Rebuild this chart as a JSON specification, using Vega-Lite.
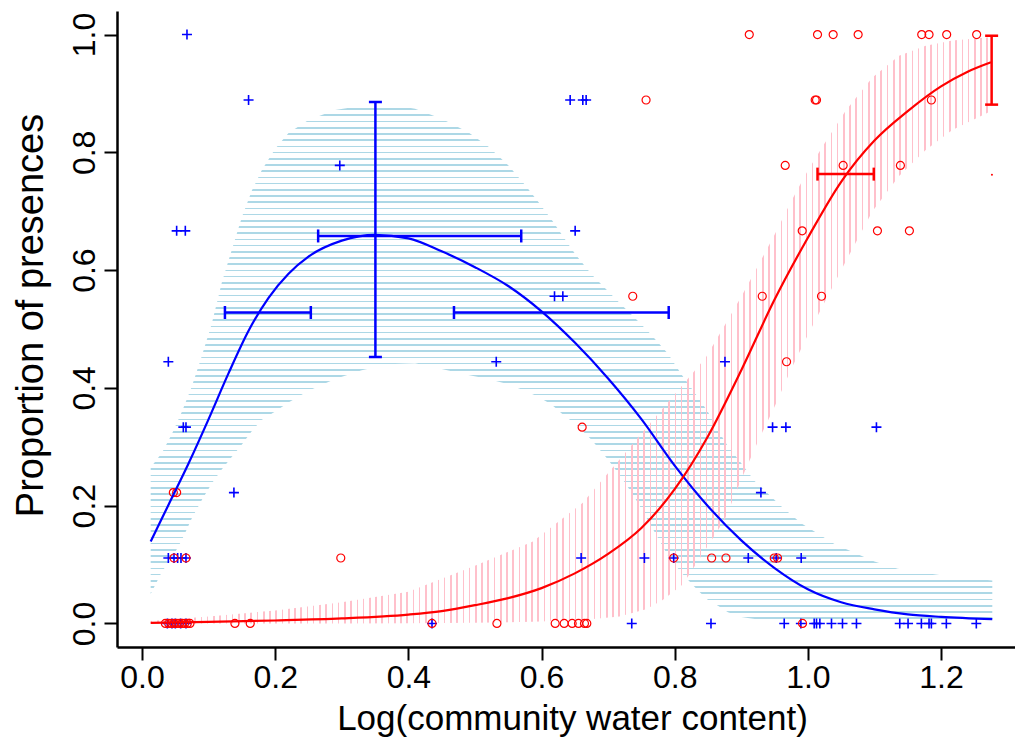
{
"$schema":"https://vega.github.io/schema/vega-lite/v6.json",
"width":898,"height":636,
"autosize":{"type":"none"},
"padding":{"left":117,"top":11,"right":0,"bottom":102},
"background":"white",
"config":{"view":{"stroke":null},"font":"Liberation Sans","axis":{"grid":false,"domainColor":"#000","domainWidth":2.5,"tickColor":"#000","tickWidth":2,"tickSize":13,"labelColor":"#000","titleColor":"#000","labelFont":"Liberation Sans","titleFont":"Liberation Sans","titleFontWeight":"normal","labelFontSize":32,"titleFontSize":35}},
"datasets":{
"bband":[{"x":0.013,"lo":0.05,"hi":0.265},{"x":0.03,"lo":0.088,"hi":0.29},{"x":0.045,"lo":0.111,"hi":0.322},{"x":0.06,"lo":0.142,"hi":0.36},{"x":0.075,"lo":0.179,"hi":0.403},{"x":0.09,"lo":0.21,"hi":0.455},{"x":0.105,"lo":0.238,"hi":0.51},{"x":0.12,"lo":0.262,"hi":0.58},{"x":0.135,"lo":0.283,"hi":0.635},{"x":0.15,"lo":0.304,"hi":0.69},{"x":0.165,"lo":0.327,"hi":0.735},{"x":0.18,"lo":0.346,"hi":0.77},{"x":0.2,"lo":0.36,"hi":0.806},{"x":0.22,"lo":0.375,"hi":0.833},{"x":0.25,"lo":0.395,"hi":0.855},{"x":0.29,"lo":0.415,"hi":0.872},{"x":0.33,"lo":0.43,"hi":0.879},{"x":0.37,"lo":0.44,"hi":0.882},{"x":0.41,"lo":0.442,"hi":0.874},{"x":0.45,"lo":0.432,"hi":0.857},{"x":0.49,"lo":0.422,"hi":0.834},{"x":0.52,"lo":0.415,"hi":0.81},{"x":0.55,"lo":0.406,"hi":0.778},{"x":0.575,"lo":0.395,"hi":0.745},{"x":0.595,"lo":0.385,"hi":0.716},{"x":0.615,"lo":0.372,"hi":0.686},{"x":0.635,"lo":0.352,"hi":0.653},{"x":0.65,"lo":0.34,"hi":0.628},{"x":0.675,"lo":0.312,"hi":0.593},{"x":0.7,"lo":0.278,"hi":0.564},{"x":0.72,"lo":0.248,"hi":0.541},{"x":0.74,"lo":0.214,"hi":0.519},{"x":0.76,"lo":0.175,"hi":0.496},{"x":0.79,"lo":0.115,"hi":0.458},{"x":0.81,"lo":0.086,"hi":0.423},{"x":0.835,"lo":0.056,"hi":0.384},{"x":0.85,"lo":0.04,"hi":0.359},{"x":0.865,"lo":0.03,"hi":0.328},{"x":0.88,"lo":0.019,"hi":0.301},{"x":0.9,"lo":0.011,"hi":0.272},{"x":0.92,"lo":0.0075,"hi":0.242},{"x":0.96,"lo":0.0035,"hi":0.199},{"x":0.99,"lo":0.0024,"hi":0.17},{"x":1.04,"lo":0.0016,"hi":0.135},{"x":1.1,"lo":0.001,"hi":0.105},{"x":1.135,"lo":0.0008,"hi":0.093},{"x":1.2,"lo":0.0004,"hi":0.082},{"x":1.277,"lo":0,"hi":0.073}],
"rband":[{"x":0.013,"lo":0,"hi":0.004},{"x":0.1,"lo":0,"hi":0.012},{"x":0.2,"lo":0,"hi":0.022},{"x":0.3,"lo":0,"hi":0.036},{"x":0.4,"lo":0.0005,"hi":0.054},{"x":0.5,"lo":0.001,"hi":0.098},{"x":0.587,"lo":0.0027,"hi":0.139},{"x":0.662,"lo":0.006,"hi":0.205},{"x":0.717,"lo":0.012,"hi":0.278},{"x":0.757,"lo":0.024,"hi":0.332},{"x":0.782,"lo":0.04,"hi":0.365},{"x":0.812,"lo":0.066,"hi":0.405},{"x":0.847,"lo":0.127,"hi":0.452},{"x":0.875,"lo":0.176,"hi":0.506},{"x":0.902,"lo":0.25,"hi":0.559},{"x":0.925,"lo":0.309,"hi":0.607},{"x":0.95,"lo":0.368,"hi":0.66},{"x":0.975,"lo":0.432,"hi":0.717},{"x":1.0,"lo":0.49,"hi":0.769},{"x":1.025,"lo":0.545,"hi":0.815},{"x":1.057,"lo":0.615,"hi":0.871},{"x":1.097,"lo":0.7,"hi":0.927},{"x":1.137,"lo":0.76,"hi":0.964},{"x":1.177,"lo":0.804,"hi":0.981},{"x":1.217,"lo":0.838,"hi":0.99},{"x":1.277,"lo":0.871,"hi":0.996}],
"fit":[{"sp":"A","x":0.013,"y":0.139},{"sp":"A","x":0.04,"y":0.202},{"sp":"A","x":0.07,"y":0.272},{"sp":"A","x":0.1,"y":0.347},{"sp":"A","x":0.13,"y":0.425},{"sp":"A","x":0.16,"y":0.497},{"sp":"A","x":0.19,"y":0.553},{"sp":"A","x":0.22,"y":0.594},{"sp":"A","x":0.25,"y":0.623},{"sp":"A","x":0.3,"y":0.65},{"sp":"A","x":0.35,"y":0.66},{"sp":"A","x":0.4,"y":0.654},{"sp":"A","x":0.45,"y":0.632},{"sp":"A","x":0.5,"y":0.605},{"sp":"A","x":0.55,"y":0.573},{"sp":"A","x":0.6,"y":0.53},{"sp":"A","x":0.65,"y":0.477},{"sp":"A","x":0.7,"y":0.416},{"sp":"A","x":0.75,"y":0.347},{"sp":"A","x":0.8,"y":0.268},{"sp":"A","x":0.85,"y":0.199},{"sp":"A","x":0.9,"y":0.141},{"sp":"A","x":0.95,"y":0.094},{"sp":"A","x":1.0,"y":0.058},{"sp":"A","x":1.05,"y":0.036},{"sp":"A","x":1.1,"y":0.024},{"sp":"A","x":1.15,"y":0.0155},{"sp":"A","x":1.2,"y":0.0112},{"sp":"A","x":1.277,"y":0.0073},
{"sp":"B","x":0.013,"y":0.001},{"sp":"B","x":0.1,"y":0.0025},{"sp":"B","x":0.2,"y":0.005},{"sp":"B","x":0.3,"y":0.0085},{"sp":"B","x":0.4,"y":0.015},{"sp":"B","x":0.45,"y":0.021},{"sp":"B","x":0.5,"y":0.031},{"sp":"B","x":0.55,"y":0.043},{"sp":"B","x":0.6,"y":0.06},{"sp":"B","x":0.65,"y":0.085},{"sp":"B","x":0.7,"y":0.118},{"sp":"B","x":0.75,"y":0.162},{"sp":"B","x":0.8,"y":0.228},{"sp":"B","x":0.85,"y":0.318},{"sp":"B","x":0.9,"y":0.43},{"sp":"B","x":0.95,"y":0.55},{"sp":"B","x":1.0,"y":0.655},{"sp":"B","x":1.05,"y":0.75},{"sp":"B","x":1.1,"y":0.82},{"sp":"B","x":1.15,"y":0.87},{"sp":"B","x":1.2,"y":0.912},{"sp":"B","x":1.24,"y":0.937},{"sp":"B","x":1.275,"y":0.953}],
"pts":[{"sp":"A","x":0.0675,"y":1},{"sp":"A","x":0.16,"y":0.8889},{"sp":"A","x":0.643,"y":0.8889},{"sp":"A","x":0.662,"y":0.8889},{"sp":"A","x":0.667,"y":0.8889},{"sp":"A","x":0.297,"y":0.7778},{"sp":"A","x":0.052,"y":0.6667},{"sp":"A","x":0.065,"y":0.6667},{"sp":"A","x":0.6505,"y":0.6667},{"sp":"A","x":0.6195,"y":0.5556},{"sp":"A","x":0.632,"y":0.5556},{"sp":"A","x":0.0395,"y":0.4444},{"sp":"A","x":0.532,"y":0.4444},{"sp":"A","x":0.8755,"y":0.4444},{"sp":"A","x":0.062,"y":0.3333},{"sp":"A","x":0.066,"y":0.3333},{"sp":"A","x":0.947,"y":0.3333},{"sp":"A","x":0.967,"y":0.3333},{"sp":"A","x":1.103,"y":0.3333},{"sp":"A","x":0.138,"y":0.2222},{"sp":"A","x":0.9295,"y":0.2222},{"sp":"A","x":0.0395,"y":0.1111},{"sp":"A","x":0.048,"y":0.1111},{"sp":"A","x":0.0535,"y":0.1111},{"sp":"A","x":0.0585,"y":0.1111},{"sp":"A","x":0.066,"y":0.1111},{"sp":"A","x":0.6595,"y":0.1111},{"sp":"A","x":0.7545,"y":0.1111},{"sp":"A","x":0.7985,"y":0.1111},{"sp":"A","x":0.9105,"y":0.1111},{"sp":"A","x":0.9525,"y":0.1111},{"sp":"A","x":0.99,"y":0.1111},{"sp":"A","x":0.038,"y":0},{"sp":"A","x":0.045,"y":0},{"sp":"A","x":0.05,"y":0},{"sp":"A","x":0.058,"y":0},{"sp":"A","x":0.066,"y":0},{"sp":"A","x":0.4355,"y":0},{"sp":"A","x":0.7355,"y":0},{"sp":"A","x":0.8545,"y":0},{"sp":"A","x":0.9645,"y":0},{"sp":"A","x":0.9895,"y":0},{"sp":"A","x":1.0095,"y":0},{"sp":"A","x":1.013,"y":0},{"sp":"A","x":1.018,"y":0},{"sp":"A","x":1.0355,"y":0},{"sp":"A","x":1.052,"y":0},{"sp":"A","x":1.073,"y":0},{"sp":"A","x":1.138,"y":0},{"sp":"A","x":1.1505,"y":0},{"sp":"A","x":1.1705,"y":0},{"sp":"A","x":1.182,"y":0},{"sp":"A","x":1.1855,"y":0},{"sp":"A","x":1.208,"y":0},{"sp":"A","x":1.253,"y":0},
{"sp":"B","x":0.912,"y":1},{"sp":"B","x":1.0145,"y":1},{"sp":"B","x":1.038,"y":1},{"sp":"B","x":1.0755,"y":1},{"sp":"B","x":1.171,"y":1},{"sp":"B","x":1.182,"y":1},{"sp":"B","x":1.2085,"y":1},{"sp":"B","x":1.2535,"y":1},{"sp":"B","x":0.757,"y":0.8889},{"sp":"B","x":1.011,"y":0.8889},{"sp":"B","x":1.013,"y":0.8889},{"sp":"B","x":1.1855,"y":0.8889},{"sp":"B","x":0.966,"y":0.7778},{"sp":"B","x":1.053,"y":0.7778},{"sp":"B","x":1.139,"y":0.7778},{"sp":"B","x":0.9915,"y":0.6667},{"sp":"B","x":1.1045,"y":0.6667},{"sp":"B","x":1.1525,"y":0.6667},{"sp":"B","x":0.737,"y":0.5556},{"sp":"B","x":0.9315,"y":0.5556},{"sp":"B","x":1.0205,"y":0.5556},{"sp":"B","x":0.968,"y":0.4444},{"sp":"B","x":0.661,"y":0.3333},{"sp":"B","x":0.047,"y":0.2222},{"sp":"B","x":0.052,"y":0.2222},{"sp":"B","x":0.048,"y":0.1111},{"sp":"B","x":0.066,"y":0.1111},{"sp":"B","x":0.2985,"y":0.1111},{"sp":"B","x":0.7985,"y":0.1111},{"sp":"B","x":0.8555,"y":0.1111},{"sp":"B","x":0.877,"y":0.1111},{"sp":"B","x":0.9495,"y":0.1111},{"sp":"B","x":0.9545,"y":0.1111},{"sp":"B","x":0.035,"y":0},{"sp":"B","x":0.04,"y":0},{"sp":"B","x":0.044,"y":0},{"sp":"B","x":0.048,"y":0},{"sp":"B","x":0.052,"y":0},{"sp":"B","x":0.056,"y":0},{"sp":"B","x":0.06,"y":0},{"sp":"B","x":0.064,"y":0},{"sp":"B","x":0.068,"y":0},{"sp":"B","x":0.072,"y":0},{"sp":"B","x":0.1395,"y":0},{"sp":"B","x":0.1625,"y":0},{"sp":"B","x":0.4355,"y":0},{"sp":"B","x":0.533,"y":0},{"sp":"B","x":0.6205,"y":0},{"sp":"B","x":0.634,"y":0},{"sp":"B","x":0.646,"y":0},{"sp":"B","x":0.6555,"y":0},{"sp":"B","x":0.6645,"y":0},{"sp":"B","x":0.668,"y":0},{"sp":"B","x":0.992,"y":0},
{"sp":"C","x":1.2765,"y":0.762}],
"vbar":[{"sp":"A","x":0.3505,"lo":0.4524,"hi":0.8855},{"sp":"B","x":1.276,"lo":0.881,"hi":0.998}],
"hbar":[{"sp":"A","y":0.658,"lo":0.2645,"hi":0.5695},{"sp":"A","y":0.528,"lo":0.1245,"hi":0.2535},{"sp":"A","y":0.528,"lo":0.4685,"hi":0.791},{"sp":"B","y":0.763,"lo":1.0145,"hi":1.099}]
},
"layer":[
{"data":{"name":"bband"},"mark":{"type":"area","stroke":null,"fill":{"gradient":"linear","x1":0,"y1":0,"x2":0,"y2":1,"stops":[
{"offset":0,"color":"transparent"},
{"offset":0.00814,"color":"transparent"},{"offset":0.00814,"color":"#add8e6"},{"offset":0.01124,"color":"#add8e6"},{"offset":0.01124,"color":"transparent"},
{"offset":0.02009,"color":"transparent"},{"offset":0.02009,"color":"#add8e6"},{"offset":0.02319,"color":"#add8e6"},{"offset":0.02319,"color":"transparent"},
{"offset":0.03204,"color":"transparent"},{"offset":0.03204,"color":"#add8e6"},{"offset":0.03514,"color":"#add8e6"},{"offset":0.03514,"color":"transparent"},
{"offset":0.044,"color":"transparent"},{"offset":0.044,"color":"#add8e6"},{"offset":0.0471,"color":"#add8e6"},{"offset":0.0471,"color":"transparent"},
{"offset":0.05595,"color":"transparent"},{"offset":0.05595,"color":"#add8e6"},{"offset":0.05905,"color":"#add8e6"},{"offset":0.05905,"color":"transparent"},
{"offset":0.0679,"color":"transparent"},{"offset":0.0679,"color":"#add8e6"},{"offset":0.071,"color":"#add8e6"},{"offset":0.071,"color":"transparent"},
{"offset":0.07985,"color":"transparent"},{"offset":0.07985,"color":"#add8e6"},{"offset":0.08295,"color":"#add8e6"},{"offset":0.08295,"color":"transparent"},
{"offset":0.0918,"color":"transparent"},{"offset":0.0918,"color":"#add8e6"},{"offset":0.0949,"color":"#add8e6"},{"offset":0.0949,"color":"transparent"},
{"offset":0.10376,"color":"transparent"},{"offset":0.10376,"color":"#add8e6"},{"offset":0.10686,"color":"#add8e6"},{"offset":0.10686,"color":"transparent"},
{"offset":0.11571,"color":"transparent"},{"offset":0.11571,"color":"#add8e6"},{"offset":0.11881,"color":"#add8e6"},{"offset":0.11881,"color":"transparent"},
{"offset":0.12766,"color":"transparent"},{"offset":0.12766,"color":"#add8e6"},{"offset":0.13076,"color":"#add8e6"},{"offset":0.13076,"color":"transparent"},
{"offset":0.13961,"color":"transparent"},{"offset":0.13961,"color":"#add8e6"},{"offset":0.14271,"color":"#add8e6"},{"offset":0.14271,"color":"transparent"},
{"offset":0.15156,"color":"transparent"},{"offset":0.15156,"color":"#add8e6"},{"offset":0.15466,"color":"#add8e6"},{"offset":0.15466,"color":"transparent"},
{"offset":0.16352,"color":"transparent"},{"offset":0.16352,"color":"#add8e6"},{"offset":0.16662,"color":"#add8e6"},{"offset":0.16662,"color":"transparent"},
{"offset":0.17547,"color":"transparent"},{"offset":0.17547,"color":"#add8e6"},{"offset":0.17857,"color":"#add8e6"},{"offset":0.17857,"color":"transparent"},
{"offset":0.18742,"color":"transparent"},{"offset":0.18742,"color":"#add8e6"},{"offset":0.19052,"color":"#add8e6"},{"offset":0.19052,"color":"transparent"},
{"offset":0.19937,"color":"transparent"},{"offset":0.19937,"color":"#add8e6"},{"offset":0.20247,"color":"#add8e6"},{"offset":0.20247,"color":"transparent"},
{"offset":0.21132,"color":"transparent"},{"offset":0.21132,"color":"#add8e6"},{"offset":0.21442,"color":"#add8e6"},{"offset":0.21442,"color":"transparent"},
{"offset":0.22328,"color":"transparent"},{"offset":0.22328,"color":"#add8e6"},{"offset":0.22638,"color":"#add8e6"},{"offset":0.22638,"color":"transparent"},
{"offset":0.23523,"color":"transparent"},{"offset":0.23523,"color":"#add8e6"},{"offset":0.23833,"color":"#add8e6"},{"offset":0.23833,"color":"transparent"},
{"offset":0.24718,"color":"transparent"},{"offset":0.24718,"color":"#add8e6"},{"offset":0.25028,"color":"#add8e6"},{"offset":0.25028,"color":"transparent"},
{"offset":0.25913,"color":"transparent"},{"offset":0.25913,"color":"#add8e6"},{"offset":0.26223,"color":"#add8e6"},{"offset":0.26223,"color":"transparent"},
{"offset":0.27108,"color":"transparent"},{"offset":0.27108,"color":"#add8e6"},{"offset":0.27418,"color":"#add8e6"},{"offset":0.27418,"color":"transparent"},
{"offset":0.28304,"color":"transparent"},{"offset":0.28304,"color":"#add8e6"},{"offset":0.28614,"color":"#add8e6"},{"offset":0.28614,"color":"transparent"},
{"offset":0.29499,"color":"transparent"},{"offset":0.29499,"color":"#add8e6"},{"offset":0.29809,"color":"#add8e6"},{"offset":0.29809,"color":"transparent"},
{"offset":0.30694,"color":"transparent"},{"offset":0.30694,"color":"#add8e6"},{"offset":0.31004,"color":"#add8e6"},{"offset":0.31004,"color":"transparent"},
{"offset":0.31889,"color":"transparent"},{"offset":0.31889,"color":"#add8e6"},{"offset":0.32199,"color":"#add8e6"},{"offset":0.32199,"color":"transparent"},
{"offset":0.33084,"color":"transparent"},{"offset":0.33084,"color":"#add8e6"},{"offset":0.33394,"color":"#add8e6"},{"offset":0.33394,"color":"transparent"},
{"offset":0.3428,"color":"transparent"},{"offset":0.3428,"color":"#add8e6"},{"offset":0.3459,"color":"#add8e6"},{"offset":0.3459,"color":"transparent"},
{"offset":0.35475,"color":"transparent"},{"offset":0.35475,"color":"#add8e6"},{"offset":0.35785,"color":"#add8e6"},{"offset":0.35785,"color":"transparent"},
{"offset":0.3667,"color":"transparent"},{"offset":0.3667,"color":"#add8e6"},{"offset":0.3698,"color":"#add8e6"},{"offset":0.3698,"color":"transparent"},
{"offset":0.37865,"color":"transparent"},{"offset":0.37865,"color":"#add8e6"},{"offset":0.38175,"color":"#add8e6"},{"offset":0.38175,"color":"transparent"},
{"offset":0.3906,"color":"transparent"},{"offset":0.3906,"color":"#add8e6"},{"offset":0.3937,"color":"#add8e6"},{"offset":0.3937,"color":"transparent"},
{"offset":0.40256,"color":"transparent"},{"offset":0.40256,"color":"#add8e6"},{"offset":0.40566,"color":"#add8e6"},{"offset":0.40566,"color":"transparent"},
{"offset":0.41451,"color":"transparent"},{"offset":0.41451,"color":"#add8e6"},{"offset":0.41761,"color":"#add8e6"},{"offset":0.41761,"color":"transparent"},
{"offset":0.42646,"color":"transparent"},{"offset":0.42646,"color":"#add8e6"},{"offset":0.42956,"color":"#add8e6"},{"offset":0.42956,"color":"transparent"},
{"offset":0.43841,"color":"transparent"},{"offset":0.43841,"color":"#add8e6"},{"offset":0.44151,"color":"#add8e6"},{"offset":0.44151,"color":"transparent"},
{"offset":0.45036,"color":"transparent"},{"offset":0.45036,"color":"#add8e6"},{"offset":0.45346,"color":"#add8e6"},{"offset":0.45346,"color":"transparent"},
{"offset":0.46232,"color":"transparent"},{"offset":0.46232,"color":"#add8e6"},{"offset":0.46542,"color":"#add8e6"},{"offset":0.46542,"color":"transparent"},
{"offset":0.47427,"color":"transparent"},{"offset":0.47427,"color":"#add8e6"},{"offset":0.47737,"color":"#add8e6"},{"offset":0.47737,"color":"transparent"},
{"offset":0.48622,"color":"transparent"},{"offset":0.48622,"color":"#add8e6"},{"offset":0.48932,"color":"#add8e6"},{"offset":0.48932,"color":"transparent"},
{"offset":0.49817,"color":"transparent"},{"offset":0.49817,"color":"#add8e6"},{"offset":0.50127,"color":"#add8e6"},{"offset":0.50127,"color":"transparent"},
{"offset":0.51012,"color":"transparent"},{"offset":0.51012,"color":"#add8e6"},{"offset":0.51322,"color":"#add8e6"},{"offset":0.51322,"color":"transparent"},
{"offset":0.52208,"color":"transparent"},{"offset":0.52208,"color":"#add8e6"},{"offset":0.52518,"color":"#add8e6"},{"offset":0.52518,"color":"transparent"},
{"offset":0.53403,"color":"transparent"},{"offset":0.53403,"color":"#add8e6"},{"offset":0.53713,"color":"#add8e6"},{"offset":0.53713,"color":"transparent"},
{"offset":0.54598,"color":"transparent"},{"offset":0.54598,"color":"#add8e6"},{"offset":0.54908,"color":"#add8e6"},{"offset":0.54908,"color":"transparent"},
{"offset":0.55793,"color":"transparent"},{"offset":0.55793,"color":"#add8e6"},{"offset":0.56103,"color":"#add8e6"},{"offset":0.56103,"color":"transparent"},
{"offset":0.56988,"color":"transparent"},{"offset":0.56988,"color":"#add8e6"},{"offset":0.57298,"color":"#add8e6"},{"offset":0.57298,"color":"transparent"},
{"offset":0.58184,"color":"transparent"},{"offset":0.58184,"color":"#add8e6"},{"offset":0.58494,"color":"#add8e6"},{"offset":0.58494,"color":"transparent"},
{"offset":0.59379,"color":"transparent"},{"offset":0.59379,"color":"#add8e6"},{"offset":0.59689,"color":"#add8e6"},{"offset":0.59689,"color":"transparent"},
{"offset":0.60574,"color":"transparent"},{"offset":0.60574,"color":"#add8e6"},{"offset":0.60884,"color":"#add8e6"},{"offset":0.60884,"color":"transparent"},
{"offset":0.61769,"color":"transparent"},{"offset":0.61769,"color":"#add8e6"},{"offset":0.62079,"color":"#add8e6"},{"offset":0.62079,"color":"transparent"},
{"offset":0.62964,"color":"transparent"},{"offset":0.62964,"color":"#add8e6"},{"offset":0.63274,"color":"#add8e6"},{"offset":0.63274,"color":"transparent"},
{"offset":0.6416,"color":"transparent"},{"offset":0.6416,"color":"#add8e6"},{"offset":0.6447,"color":"#add8e6"},{"offset":0.6447,"color":"transparent"},
{"offset":0.65355,"color":"transparent"},{"offset":0.65355,"color":"#add8e6"},{"offset":0.65665,"color":"#add8e6"},{"offset":0.65665,"color":"transparent"},
{"offset":0.6655,"color":"transparent"},{"offset":0.6655,"color":"#add8e6"},{"offset":0.6686,"color":"#add8e6"},{"offset":0.6686,"color":"transparent"},
{"offset":0.67745,"color":"transparent"},{"offset":0.67745,"color":"#add8e6"},{"offset":0.68055,"color":"#add8e6"},{"offset":0.68055,"color":"transparent"},
{"offset":0.6894,"color":"transparent"},{"offset":0.6894,"color":"#add8e6"},{"offset":0.6925,"color":"#add8e6"},{"offset":0.6925,"color":"transparent"},
{"offset":0.70136,"color":"transparent"},{"offset":0.70136,"color":"#add8e6"},{"offset":0.70446,"color":"#add8e6"},{"offset":0.70446,"color":"transparent"},
{"offset":0.71331,"color":"transparent"},{"offset":0.71331,"color":"#add8e6"},{"offset":0.71641,"color":"#add8e6"},{"offset":0.71641,"color":"transparent"},
{"offset":0.72526,"color":"transparent"},{"offset":0.72526,"color":"#add8e6"},{"offset":0.72836,"color":"#add8e6"},{"offset":0.72836,"color":"transparent"},
{"offset":0.73721,"color":"transparent"},{"offset":0.73721,"color":"#add8e6"},{"offset":0.74031,"color":"#add8e6"},{"offset":0.74031,"color":"transparent"},
{"offset":0.74916,"color":"transparent"},{"offset":0.74916,"color":"#add8e6"},{"offset":0.75226,"color":"#add8e6"},{"offset":0.75226,"color":"transparent"},
{"offset":0.76112,"color":"transparent"},{"offset":0.76112,"color":"#add8e6"},{"offset":0.76422,"color":"#add8e6"},{"offset":0.76422,"color":"transparent"},
{"offset":0.77307,"color":"transparent"},{"offset":0.77307,"color":"#add8e6"},{"offset":0.77617,"color":"#add8e6"},{"offset":0.77617,"color":"transparent"},
{"offset":0.78502,"color":"transparent"},{"offset":0.78502,"color":"#add8e6"},{"offset":0.78812,"color":"#add8e6"},{"offset":0.78812,"color":"transparent"},
{"offset":0.79697,"color":"transparent"},{"offset":0.79697,"color":"#add8e6"},{"offset":0.80007,"color":"#add8e6"},{"offset":0.80007,"color":"transparent"},
{"offset":0.80892,"color":"transparent"},{"offset":0.80892,"color":"#add8e6"},{"offset":0.81202,"color":"#add8e6"},{"offset":0.81202,"color":"transparent"},
{"offset":0.82088,"color":"transparent"},{"offset":0.82088,"color":"#add8e6"},{"offset":0.82398,"color":"#add8e6"},{"offset":0.82398,"color":"transparent"},
{"offset":0.83283,"color":"transparent"},{"offset":0.83283,"color":"#add8e6"},{"offset":0.83593,"color":"#add8e6"},{"offset":0.83593,"color":"transparent"},
{"offset":0.84478,"color":"transparent"},{"offset":0.84478,"color":"#add8e6"},{"offset":0.84788,"color":"#add8e6"},{"offset":0.84788,"color":"transparent"},
{"offset":0.85673,"color":"transparent"},{"offset":0.85673,"color":"#add8e6"},{"offset":0.85983,"color":"#add8e6"},{"offset":0.85983,"color":"transparent"},
{"offset":0.86868,"color":"transparent"},{"offset":0.86868,"color":"#add8e6"},{"offset":0.87178,"color":"#add8e6"},{"offset":0.87178,"color":"transparent"},
{"offset":0.88064,"color":"transparent"},{"offset":0.88064,"color":"#add8e6"},{"offset":0.88374,"color":"#add8e6"},{"offset":0.88374,"color":"transparent"},
{"offset":0.89259,"color":"transparent"},{"offset":0.89259,"color":"#add8e6"},{"offset":0.89569,"color":"#add8e6"},{"offset":0.89569,"color":"transparent"},
{"offset":0.90454,"color":"transparent"},{"offset":0.90454,"color":"#add8e6"},{"offset":0.90764,"color":"#add8e6"},{"offset":0.90764,"color":"transparent"},
{"offset":0.91649,"color":"transparent"},{"offset":0.91649,"color":"#add8e6"},{"offset":0.91959,"color":"#add8e6"},{"offset":0.91959,"color":"transparent"},
{"offset":0.92844,"color":"transparent"},{"offset":0.92844,"color":"#add8e6"},{"offset":0.93154,"color":"#add8e6"},{"offset":0.93154,"color":"transparent"},
{"offset":0.9404,"color":"transparent"},{"offset":0.9404,"color":"#add8e6"},{"offset":0.9435,"color":"#add8e6"},{"offset":0.9435,"color":"transparent"},
{"offset":0.95235,"color":"transparent"},{"offset":0.95235,"color":"#add8e6"},{"offset":0.95545,"color":"#add8e6"},{"offset":0.95545,"color":"transparent"},
{"offset":0.9643,"color":"transparent"},{"offset":0.9643,"color":"#add8e6"},{"offset":0.9674,"color":"#add8e6"},{"offset":0.9674,"color":"transparent"},
{"offset":0.97625,"color":"transparent"},{"offset":0.97625,"color":"#add8e6"},{"offset":0.97935,"color":"#add8e6"},{"offset":0.97935,"color":"transparent"},
{"offset":0.9882,"color":"transparent"},{"offset":0.9882,"color":"#add8e6"},{"offset":0.9913,"color":"#add8e6"},{"offset":0.9913,"color":"transparent"},
{"offset":1,"color":"transparent"}]}},
"encoding":{"x":{"field":"x","type":"quantitative","scale":{"domain":[-0.0376,1.3111],"nice":false,"zero":false},"axis":{"title":"Log(community water content)","values":[0,0.2,0.4,0.6,0.8,1,1.2],"format":".1f","labelPadding":2,"titlePadding":8,"titleX":455,"labelFlush":false,"labelOverlap":false}},
"y":{"field":"lo","type":"quantitative","scale":{"domain":[-0.04,1.04],"nice":false,"zero":false},"axis":{"title":"Proportion of presences","values":[0,0.2,0.4,0.6,0.8,1],"format":".1f","labelAngle":-90,"labelAlign":"center","labelBaseline":"alphabetic","labelPadding":10,"titlePadding":18,"titleY":304,"titleFontSize":38,"labelOverlap":false}},
"y2":{"field":"hi"}}},
{"data":{"name":"rband"},"mark":{"type":"area","stroke":null,"fill":{"gradient":"linear","x1":0,"y1":0,"x2":1,"y2":0,"stops":[
{"offset":0,"color":"#ffc0cb"},{"offset":0.0019,"color":"#ffc0cb"},{"offset":0.0019,"color":"transparent"},
{"offset":0.00741,"color":"transparent"},{"offset":0.00741,"color":"#ffc0cb"},{"offset":0.00931,"color":"#ffc0cb"},{"offset":0.00931,"color":"transparent"},
{"offset":0.01482,"color":"transparent"},{"offset":0.01482,"color":"#ffc0cb"},{"offset":0.01672,"color":"#ffc0cb"},{"offset":0.01672,"color":"transparent"},
{"offset":0.02223,"color":"transparent"},{"offset":0.02223,"color":"#ffc0cb"},{"offset":0.02413,"color":"#ffc0cb"},{"offset":0.02413,"color":"transparent"},
{"offset":0.02964,"color":"transparent"},{"offset":0.02964,"color":"#ffc0cb"},{"offset":0.03154,"color":"#ffc0cb"},{"offset":0.03154,"color":"transparent"},
{"offset":0.03705,"color":"transparent"},{"offset":0.03705,"color":"#ffc0cb"},{"offset":0.03895,"color":"#ffc0cb"},{"offset":0.03895,"color":"transparent"},
{"offset":0.04447,"color":"transparent"},{"offset":0.04447,"color":"#ffc0cb"},{"offset":0.04637,"color":"#ffc0cb"},{"offset":0.04637,"color":"transparent"},
{"offset":0.05188,"color":"transparent"},{"offset":0.05188,"color":"#ffc0cb"},{"offset":0.05378,"color":"#ffc0cb"},{"offset":0.05378,"color":"transparent"},
{"offset":0.05929,"color":"transparent"},{"offset":0.05929,"color":"#ffc0cb"},{"offset":0.06119,"color":"#ffc0cb"},{"offset":0.06119,"color":"transparent"},
{"offset":0.0667,"color":"transparent"},{"offset":0.0667,"color":"#ffc0cb"},{"offset":0.0686,"color":"#ffc0cb"},{"offset":0.0686,"color":"transparent"},
{"offset":0.07411,"color":"transparent"},{"offset":0.07411,"color":"#ffc0cb"},{"offset":0.07601,"color":"#ffc0cb"},{"offset":0.07601,"color":"transparent"},
{"offset":0.08152,"color":"transparent"},{"offset":0.08152,"color":"#ffc0cb"},{"offset":0.08342,"color":"#ffc0cb"},{"offset":0.08342,"color":"transparent"},
{"offset":0.08893,"color":"transparent"},{"offset":0.08893,"color":"#ffc0cb"},{"offset":0.09083,"color":"#ffc0cb"},{"offset":0.09083,"color":"transparent"},
{"offset":0.09634,"color":"transparent"},{"offset":0.09634,"color":"#ffc0cb"},{"offset":0.09824,"color":"#ffc0cb"},{"offset":0.09824,"color":"transparent"},
{"offset":0.10375,"color":"transparent"},{"offset":0.10375,"color":"#ffc0cb"},{"offset":0.10565,"color":"#ffc0cb"},{"offset":0.10565,"color":"transparent"},
{"offset":0.11116,"color":"transparent"},{"offset":0.11116,"color":"#ffc0cb"},{"offset":0.11306,"color":"#ffc0cb"},{"offset":0.11306,"color":"transparent"},
{"offset":0.11857,"color":"transparent"},{"offset":0.11857,"color":"#ffc0cb"},{"offset":0.12047,"color":"#ffc0cb"},{"offset":0.12047,"color":"transparent"},
{"offset":0.12599,"color":"transparent"},{"offset":0.12599,"color":"#ffc0cb"},{"offset":0.12789,"color":"#ffc0cb"},{"offset":0.12789,"color":"transparent"},
{"offset":0.1334,"color":"transparent"},{"offset":0.1334,"color":"#ffc0cb"},{"offset":0.1353,"color":"#ffc0cb"},{"offset":0.1353,"color":"transparent"},
{"offset":0.14081,"color":"transparent"},{"offset":0.14081,"color":"#ffc0cb"},{"offset":0.14271,"color":"#ffc0cb"},{"offset":0.14271,"color":"transparent"},
{"offset":0.14822,"color":"transparent"},{"offset":0.14822,"color":"#ffc0cb"},{"offset":0.15012,"color":"#ffc0cb"},{"offset":0.15012,"color":"transparent"},
{"offset":0.15563,"color":"transparent"},{"offset":0.15563,"color":"#ffc0cb"},{"offset":0.15753,"color":"#ffc0cb"},{"offset":0.15753,"color":"transparent"},
{"offset":0.16304,"color":"transparent"},{"offset":0.16304,"color":"#ffc0cb"},{"offset":0.16494,"color":"#ffc0cb"},{"offset":0.16494,"color":"transparent"},
{"offset":0.17045,"color":"transparent"},{"offset":0.17045,"color":"#ffc0cb"},{"offset":0.17235,"color":"#ffc0cb"},{"offset":0.17235,"color":"transparent"},
{"offset":0.17786,"color":"transparent"},{"offset":0.17786,"color":"#ffc0cb"},{"offset":0.17976,"color":"#ffc0cb"},{"offset":0.17976,"color":"transparent"},
{"offset":0.18527,"color":"transparent"},{"offset":0.18527,"color":"#ffc0cb"},{"offset":0.18717,"color":"#ffc0cb"},{"offset":0.18717,"color":"transparent"},
{"offset":0.19268,"color":"transparent"},{"offset":0.19268,"color":"#ffc0cb"},{"offset":0.19458,"color":"#ffc0cb"},{"offset":0.19458,"color":"transparent"},
{"offset":0.20009,"color":"transparent"},{"offset":0.20009,"color":"#ffc0cb"},{"offset":0.20199,"color":"#ffc0cb"},{"offset":0.20199,"color":"transparent"},
{"offset":0.20751,"color":"transparent"},{"offset":0.20751,"color":"#ffc0cb"},{"offset":0.20941,"color":"#ffc0cb"},{"offset":0.20941,"color":"transparent"},
{"offset":0.21492,"color":"transparent"},{"offset":0.21492,"color":"#ffc0cb"},{"offset":0.21682,"color":"#ffc0cb"},{"offset":0.21682,"color":"transparent"},
{"offset":0.22233,"color":"transparent"},{"offset":0.22233,"color":"#ffc0cb"},{"offset":0.22423,"color":"#ffc0cb"},{"offset":0.22423,"color":"transparent"},
{"offset":0.22974,"color":"transparent"},{"offset":0.22974,"color":"#ffc0cb"},{"offset":0.23164,"color":"#ffc0cb"},{"offset":0.23164,"color":"transparent"},
{"offset":0.23715,"color":"transparent"},{"offset":0.23715,"color":"#ffc0cb"},{"offset":0.23905,"color":"#ffc0cb"},{"offset":0.23905,"color":"transparent"},
{"offset":0.24456,"color":"transparent"},{"offset":0.24456,"color":"#ffc0cb"},{"offset":0.24646,"color":"#ffc0cb"},{"offset":0.24646,"color":"transparent"},
{"offset":0.25197,"color":"transparent"},{"offset":0.25197,"color":"#ffc0cb"},{"offset":0.25387,"color":"#ffc0cb"},{"offset":0.25387,"color":"transparent"},
{"offset":0.25938,"color":"transparent"},{"offset":0.25938,"color":"#ffc0cb"},{"offset":0.26128,"color":"#ffc0cb"},{"offset":0.26128,"color":"transparent"},
{"offset":0.26679,"color":"transparent"},{"offset":0.26679,"color":"#ffc0cb"},{"offset":0.26869,"color":"#ffc0cb"},{"offset":0.26869,"color":"transparent"},
{"offset":0.2742,"color":"transparent"},{"offset":0.2742,"color":"#ffc0cb"},{"offset":0.2761,"color":"#ffc0cb"},{"offset":0.2761,"color":"transparent"},
{"offset":0.28161,"color":"transparent"},{"offset":0.28161,"color":"#ffc0cb"},{"offset":0.28351,"color":"#ffc0cb"},{"offset":0.28351,"color":"transparent"},
{"offset":0.28903,"color":"transparent"},{"offset":0.28903,"color":"#ffc0cb"},{"offset":0.29093,"color":"#ffc0cb"},{"offset":0.29093,"color":"transparent"},
{"offset":0.29644,"color":"transparent"},{"offset":0.29644,"color":"#ffc0cb"},{"offset":0.29834,"color":"#ffc0cb"},{"offset":0.29834,"color":"transparent"},
{"offset":0.30385,"color":"transparent"},{"offset":0.30385,"color":"#ffc0cb"},{"offset":0.30575,"color":"#ffc0cb"},{"offset":0.30575,"color":"transparent"},
{"offset":0.31126,"color":"transparent"},{"offset":0.31126,"color":"#ffc0cb"},{"offset":0.31316,"color":"#ffc0cb"},{"offset":0.31316,"color":"transparent"},
{"offset":0.31867,"color":"transparent"},{"offset":0.31867,"color":"#ffc0cb"},{"offset":0.32057,"color":"#ffc0cb"},{"offset":0.32057,"color":"transparent"},
{"offset":0.32608,"color":"transparent"},{"offset":0.32608,"color":"#ffc0cb"},{"offset":0.32798,"color":"#ffc0cb"},{"offset":0.32798,"color":"transparent"},
{"offset":0.33349,"color":"transparent"},{"offset":0.33349,"color":"#ffc0cb"},{"offset":0.33539,"color":"#ffc0cb"},{"offset":0.33539,"color":"transparent"},
{"offset":0.3409,"color":"transparent"},{"offset":0.3409,"color":"#ffc0cb"},{"offset":0.3428,"color":"#ffc0cb"},{"offset":0.3428,"color":"transparent"},
{"offset":0.34831,"color":"transparent"},{"offset":0.34831,"color":"#ffc0cb"},{"offset":0.35021,"color":"#ffc0cb"},{"offset":0.35021,"color":"transparent"},
{"offset":0.35572,"color":"transparent"},{"offset":0.35572,"color":"#ffc0cb"},{"offset":0.35762,"color":"#ffc0cb"},{"offset":0.35762,"color":"transparent"},
{"offset":0.36313,"color":"transparent"},{"offset":0.36313,"color":"#ffc0cb"},{"offset":0.36503,"color":"#ffc0cb"},{"offset":0.36503,"color":"transparent"},
{"offset":0.37055,"color":"transparent"},{"offset":0.37055,"color":"#ffc0cb"},{"offset":0.37245,"color":"#ffc0cb"},{"offset":0.37245,"color":"transparent"},
{"offset":0.37796,"color":"transparent"},{"offset":0.37796,"color":"#ffc0cb"},{"offset":0.37986,"color":"#ffc0cb"},{"offset":0.37986,"color":"transparent"},
{"offset":0.38537,"color":"transparent"},{"offset":0.38537,"color":"#ffc0cb"},{"offset":0.38727,"color":"#ffc0cb"},{"offset":0.38727,"color":"transparent"},
{"offset":0.39278,"color":"transparent"},{"offset":0.39278,"color":"#ffc0cb"},{"offset":0.39468,"color":"#ffc0cb"},{"offset":0.39468,"color":"transparent"},
{"offset":0.40019,"color":"transparent"},{"offset":0.40019,"color":"#ffc0cb"},{"offset":0.40209,"color":"#ffc0cb"},{"offset":0.40209,"color":"transparent"},
{"offset":0.4076,"color":"transparent"},{"offset":0.4076,"color":"#ffc0cb"},{"offset":0.4095,"color":"#ffc0cb"},{"offset":0.4095,"color":"transparent"},
{"offset":0.41501,"color":"transparent"},{"offset":0.41501,"color":"#ffc0cb"},{"offset":0.41691,"color":"#ffc0cb"},{"offset":0.41691,"color":"transparent"},
{"offset":0.42242,"color":"transparent"},{"offset":0.42242,"color":"#ffc0cb"},{"offset":0.42432,"color":"#ffc0cb"},{"offset":0.42432,"color":"transparent"},
{"offset":0.42983,"color":"transparent"},{"offset":0.42983,"color":"#ffc0cb"},{"offset":0.43173,"color":"#ffc0cb"},{"offset":0.43173,"color":"transparent"},
{"offset":0.43724,"color":"transparent"},{"offset":0.43724,"color":"#ffc0cb"},{"offset":0.43914,"color":"#ffc0cb"},{"offset":0.43914,"color":"transparent"},
{"offset":0.44465,"color":"transparent"},{"offset":0.44465,"color":"#ffc0cb"},{"offset":0.44655,"color":"#ffc0cb"},{"offset":0.44655,"color":"transparent"},
{"offset":0.45206,"color":"transparent"},{"offset":0.45206,"color":"#ffc0cb"},{"offset":0.45396,"color":"#ffc0cb"},{"offset":0.45396,"color":"transparent"},
{"offset":0.45948,"color":"transparent"},{"offset":0.45948,"color":"#ffc0cb"},{"offset":0.46138,"color":"#ffc0cb"},{"offset":0.46138,"color":"transparent"},
{"offset":0.46689,"color":"transparent"},{"offset":0.46689,"color":"#ffc0cb"},{"offset":0.46879,"color":"#ffc0cb"},{"offset":0.46879,"color":"transparent"},
{"offset":0.4743,"color":"transparent"},{"offset":0.4743,"color":"#ffc0cb"},{"offset":0.4762,"color":"#ffc0cb"},{"offset":0.4762,"color":"transparent"},
{"offset":0.48171,"color":"transparent"},{"offset":0.48171,"color":"#ffc0cb"},{"offset":0.48361,"color":"#ffc0cb"},{"offset":0.48361,"color":"transparent"},
{"offset":0.48912,"color":"transparent"},{"offset":0.48912,"color":"#ffc0cb"},{"offset":0.49102,"color":"#ffc0cb"},{"offset":0.49102,"color":"transparent"},
{"offset":0.49653,"color":"transparent"},{"offset":0.49653,"color":"#ffc0cb"},{"offset":0.49843,"color":"#ffc0cb"},{"offset":0.49843,"color":"transparent"},
{"offset":0.50394,"color":"transparent"},{"offset":0.50394,"color":"#ffc0cb"},{"offset":0.50584,"color":"#ffc0cb"},{"offset":0.50584,"color":"transparent"},
{"offset":0.51135,"color":"transparent"},{"offset":0.51135,"color":"#ffc0cb"},{"offset":0.51325,"color":"#ffc0cb"},{"offset":0.51325,"color":"transparent"},
{"offset":0.51876,"color":"transparent"},{"offset":0.51876,"color":"#ffc0cb"},{"offset":0.52066,"color":"#ffc0cb"},{"offset":0.52066,"color":"transparent"},
{"offset":0.52617,"color":"transparent"},{"offset":0.52617,"color":"#ffc0cb"},{"offset":0.52807,"color":"#ffc0cb"},{"offset":0.52807,"color":"transparent"},
{"offset":0.53358,"color":"transparent"},{"offset":0.53358,"color":"#ffc0cb"},{"offset":0.53548,"color":"#ffc0cb"},{"offset":0.53548,"color":"transparent"},
{"offset":0.541,"color":"transparent"},{"offset":0.541,"color":"#ffc0cb"},{"offset":0.5429,"color":"#ffc0cb"},{"offset":0.5429,"color":"transparent"},
{"offset":0.54841,"color":"transparent"},{"offset":0.54841,"color":"#ffc0cb"},{"offset":0.55031,"color":"#ffc0cb"},{"offset":0.55031,"color":"transparent"},
{"offset":0.55582,"color":"transparent"},{"offset":0.55582,"color":"#ffc0cb"},{"offset":0.55772,"color":"#ffc0cb"},{"offset":0.55772,"color":"transparent"},
{"offset":0.56323,"color":"transparent"},{"offset":0.56323,"color":"#ffc0cb"},{"offset":0.56513,"color":"#ffc0cb"},{"offset":0.56513,"color":"transparent"},
{"offset":0.57064,"color":"transparent"},{"offset":0.57064,"color":"#ffc0cb"},{"offset":0.57254,"color":"#ffc0cb"},{"offset":0.57254,"color":"transparent"},
{"offset":0.57805,"color":"transparent"},{"offset":0.57805,"color":"#ffc0cb"},{"offset":0.57995,"color":"#ffc0cb"},{"offset":0.57995,"color":"transparent"},
{"offset":0.58546,"color":"transparent"},{"offset":0.58546,"color":"#ffc0cb"},{"offset":0.58736,"color":"#ffc0cb"},{"offset":0.58736,"color":"transparent"},
{"offset":0.59287,"color":"transparent"},{"offset":0.59287,"color":"#ffc0cb"},{"offset":0.59477,"color":"#ffc0cb"},{"offset":0.59477,"color":"transparent"},
{"offset":0.60028,"color":"transparent"},{"offset":0.60028,"color":"#ffc0cb"},{"offset":0.60218,"color":"#ffc0cb"},{"offset":0.60218,"color":"transparent"},
{"offset":0.60769,"color":"transparent"},{"offset":0.60769,"color":"#ffc0cb"},{"offset":0.60959,"color":"#ffc0cb"},{"offset":0.60959,"color":"transparent"},
{"offset":0.6151,"color":"transparent"},{"offset":0.6151,"color":"#ffc0cb"},{"offset":0.617,"color":"#ffc0cb"},{"offset":0.617,"color":"transparent"},
{"offset":0.62252,"color":"transparent"},{"offset":0.62252,"color":"#ffc0cb"},{"offset":0.62442,"color":"#ffc0cb"},{"offset":0.62442,"color":"transparent"},
{"offset":0.62993,"color":"transparent"},{"offset":0.62993,"color":"#ffc0cb"},{"offset":0.63183,"color":"#ffc0cb"},{"offset":0.63183,"color":"transparent"},
{"offset":0.63734,"color":"transparent"},{"offset":0.63734,"color":"#ffc0cb"},{"offset":0.63924,"color":"#ffc0cb"},{"offset":0.63924,"color":"transparent"},
{"offset":0.64475,"color":"transparent"},{"offset":0.64475,"color":"#ffc0cb"},{"offset":0.64665,"color":"#ffc0cb"},{"offset":0.64665,"color":"transparent"},
{"offset":0.65216,"color":"transparent"},{"offset":0.65216,"color":"#ffc0cb"},{"offset":0.65406,"color":"#ffc0cb"},{"offset":0.65406,"color":"transparent"},
{"offset":0.65957,"color":"transparent"},{"offset":0.65957,"color":"#ffc0cb"},{"offset":0.66147,"color":"#ffc0cb"},{"offset":0.66147,"color":"transparent"},
{"offset":0.66698,"color":"transparent"},{"offset":0.66698,"color":"#ffc0cb"},{"offset":0.66888,"color":"#ffc0cb"},{"offset":0.66888,"color":"transparent"},
{"offset":0.67439,"color":"transparent"},{"offset":0.67439,"color":"#ffc0cb"},{"offset":0.67629,"color":"#ffc0cb"},{"offset":0.67629,"color":"transparent"},
{"offset":0.6818,"color":"transparent"},{"offset":0.6818,"color":"#ffc0cb"},{"offset":0.6837,"color":"#ffc0cb"},{"offset":0.6837,"color":"transparent"},
{"offset":0.68921,"color":"transparent"},{"offset":0.68921,"color":"#ffc0cb"},{"offset":0.69111,"color":"#ffc0cb"},{"offset":0.69111,"color":"transparent"},
{"offset":0.69662,"color":"transparent"},{"offset":0.69662,"color":"#ffc0cb"},{"offset":0.69852,"color":"#ffc0cb"},{"offset":0.69852,"color":"transparent"},
{"offset":0.70404,"color":"transparent"},{"offset":0.70404,"color":"#ffc0cb"},{"offset":0.70594,"color":"#ffc0cb"},{"offset":0.70594,"color":"transparent"},
{"offset":0.71145,"color":"transparent"},{"offset":0.71145,"color":"#ffc0cb"},{"offset":0.71335,"color":"#ffc0cb"},{"offset":0.71335,"color":"transparent"},
{"offset":0.71886,"color":"transparent"},{"offset":0.71886,"color":"#ffc0cb"},{"offset":0.72076,"color":"#ffc0cb"},{"offset":0.72076,"color":"transparent"},
{"offset":0.72627,"color":"transparent"},{"offset":0.72627,"color":"#ffc0cb"},{"offset":0.72817,"color":"#ffc0cb"},{"offset":0.72817,"color":"transparent"},
{"offset":0.73368,"color":"transparent"},{"offset":0.73368,"color":"#ffc0cb"},{"offset":0.73558,"color":"#ffc0cb"},{"offset":0.73558,"color":"transparent"},
{"offset":0.74109,"color":"transparent"},{"offset":0.74109,"color":"#ffc0cb"},{"offset":0.74299,"color":"#ffc0cb"},{"offset":0.74299,"color":"transparent"},
{"offset":0.7485,"color":"transparent"},{"offset":0.7485,"color":"#ffc0cb"},{"offset":0.7504,"color":"#ffc0cb"},{"offset":0.7504,"color":"transparent"},
{"offset":0.75591,"color":"transparent"},{"offset":0.75591,"color":"#ffc0cb"},{"offset":0.75781,"color":"#ffc0cb"},{"offset":0.75781,"color":"transparent"},
{"offset":0.76332,"color":"transparent"},{"offset":0.76332,"color":"#ffc0cb"},{"offset":0.76522,"color":"#ffc0cb"},{"offset":0.76522,"color":"transparent"},
{"offset":0.77073,"color":"transparent"},{"offset":0.77073,"color":"#ffc0cb"},{"offset":0.77263,"color":"#ffc0cb"},{"offset":0.77263,"color":"transparent"},
{"offset":0.77814,"color":"transparent"},{"offset":0.77814,"color":"#ffc0cb"},{"offset":0.78004,"color":"#ffc0cb"},{"offset":0.78004,"color":"transparent"},
{"offset":0.78556,"color":"transparent"},{"offset":0.78556,"color":"#ffc0cb"},{"offset":0.78746,"color":"#ffc0cb"},{"offset":0.78746,"color":"transparent"},
{"offset":0.79297,"color":"transparent"},{"offset":0.79297,"color":"#ffc0cb"},{"offset":0.79487,"color":"#ffc0cb"},{"offset":0.79487,"color":"transparent"},
{"offset":0.80038,"color":"transparent"},{"offset":0.80038,"color":"#ffc0cb"},{"offset":0.80228,"color":"#ffc0cb"},{"offset":0.80228,"color":"transparent"},
{"offset":0.80779,"color":"transparent"},{"offset":0.80779,"color":"#ffc0cb"},{"offset":0.80969,"color":"#ffc0cb"},{"offset":0.80969,"color":"transparent"},
{"offset":0.8152,"color":"transparent"},{"offset":0.8152,"color":"#ffc0cb"},{"offset":0.8171,"color":"#ffc0cb"},{"offset":0.8171,"color":"transparent"},
{"offset":0.82261,"color":"transparent"},{"offset":0.82261,"color":"#ffc0cb"},{"offset":0.82451,"color":"#ffc0cb"},{"offset":0.82451,"color":"transparent"},
{"offset":0.83002,"color":"transparent"},{"offset":0.83002,"color":"#ffc0cb"},{"offset":0.83192,"color":"#ffc0cb"},{"offset":0.83192,"color":"transparent"},
{"offset":0.83743,"color":"transparent"},{"offset":0.83743,"color":"#ffc0cb"},{"offset":0.83933,"color":"#ffc0cb"},{"offset":0.83933,"color":"transparent"},
{"offset":0.84484,"color":"transparent"},{"offset":0.84484,"color":"#ffc0cb"},{"offset":0.84674,"color":"#ffc0cb"},{"offset":0.84674,"color":"transparent"},
{"offset":0.85225,"color":"transparent"},{"offset":0.85225,"color":"#ffc0cb"},{"offset":0.85415,"color":"#ffc0cb"},{"offset":0.85415,"color":"transparent"},
{"offset":0.85966,"color":"transparent"},{"offset":0.85966,"color":"#ffc0cb"},{"offset":0.86156,"color":"#ffc0cb"},{"offset":0.86156,"color":"transparent"},
{"offset":0.86708,"color":"transparent"},{"offset":0.86708,"color":"#ffc0cb"},{"offset":0.86898,"color":"#ffc0cb"},{"offset":0.86898,"color":"transparent"},
{"offset":0.87449,"color":"transparent"},{"offset":0.87449,"color":"#ffc0cb"},{"offset":0.87639,"color":"#ffc0cb"},{"offset":0.87639,"color":"transparent"},
{"offset":0.8819,"color":"transparent"},{"offset":0.8819,"color":"#ffc0cb"},{"offset":0.8838,"color":"#ffc0cb"},{"offset":0.8838,"color":"transparent"},
{"offset":0.88931,"color":"transparent"},{"offset":0.88931,"color":"#ffc0cb"},{"offset":0.89121,"color":"#ffc0cb"},{"offset":0.89121,"color":"transparent"},
{"offset":0.89672,"color":"transparent"},{"offset":0.89672,"color":"#ffc0cb"},{"offset":0.89862,"color":"#ffc0cb"},{"offset":0.89862,"color":"transparent"},
{"offset":0.90413,"color":"transparent"},{"offset":0.90413,"color":"#ffc0cb"},{"offset":0.90603,"color":"#ffc0cb"},{"offset":0.90603,"color":"transparent"},
{"offset":0.91154,"color":"transparent"},{"offset":0.91154,"color":"#ffc0cb"},{"offset":0.91344,"color":"#ffc0cb"},{"offset":0.91344,"color":"transparent"},
{"offset":0.91895,"color":"transparent"},{"offset":0.91895,"color":"#ffc0cb"},{"offset":0.92085,"color":"#ffc0cb"},{"offset":0.92085,"color":"transparent"},
{"offset":0.92636,"color":"transparent"},{"offset":0.92636,"color":"#ffc0cb"},{"offset":0.92826,"color":"#ffc0cb"},{"offset":0.92826,"color":"transparent"},
{"offset":0.93377,"color":"transparent"},{"offset":0.93377,"color":"#ffc0cb"},{"offset":0.93567,"color":"#ffc0cb"},{"offset":0.93567,"color":"transparent"},
{"offset":0.94118,"color":"transparent"},{"offset":0.94118,"color":"#ffc0cb"},{"offset":0.94308,"color":"#ffc0cb"},{"offset":0.94308,"color":"transparent"},
{"offset":0.9486,"color":"transparent"},{"offset":0.9486,"color":"#ffc0cb"},{"offset":0.9505,"color":"#ffc0cb"},{"offset":0.9505,"color":"transparent"},
{"offset":0.95601,"color":"transparent"},{"offset":0.95601,"color":"#ffc0cb"},{"offset":0.95791,"color":"#ffc0cb"},{"offset":0.95791,"color":"transparent"},
{"offset":0.96342,"color":"transparent"},{"offset":0.96342,"color":"#ffc0cb"},{"offset":0.96532,"color":"#ffc0cb"},{"offset":0.96532,"color":"transparent"},
{"offset":0.97083,"color":"transparent"},{"offset":0.97083,"color":"#ffc0cb"},{"offset":0.97273,"color":"#ffc0cb"},{"offset":0.97273,"color":"transparent"},
{"offset":0.97824,"color":"transparent"},{"offset":0.97824,"color":"#ffc0cb"},{"offset":0.98014,"color":"#ffc0cb"},{"offset":0.98014,"color":"transparent"},
{"offset":0.98565,"color":"transparent"},{"offset":0.98565,"color":"#ffc0cb"},{"offset":0.98755,"color":"#ffc0cb"},{"offset":0.98755,"color":"transparent"},
{"offset":0.99306,"color":"transparent"},{"offset":0.99306,"color":"#ffc0cb"},{"offset":0.99496,"color":"#ffc0cb"},{"offset":0.99496,"color":"transparent"},
{"offset":1,"color":"transparent"}]}},
"encoding":{"x":{"field":"x","type":"quantitative"},"y":{"field":"lo","type":"quantitative"},"y2":{"field":"hi"}}},
{"data":{"name":"pts"},"transform":[{"filter":"datum.sp==='A'"}],"mark":{"type":"point","shape":"M-1,0L1,0M0,-1L0,1","size":100,"filled":false,"stroke":"#0000ff","strokeWidth":1.6,"opacity":1},
"encoding":{"x":{"field":"x","type":"quantitative"},"y":{"field":"y","type":"quantitative"}}},
{"data":{"name":"pts"},"transform":[{"filter":"datum.sp==='B'"}],"mark":{"type":"point","shape":"circle","size":64,"filled":false,"stroke":"#ff0000","strokeWidth":1.2,"opacity":1},
"encoding":{"x":{"field":"x","type":"quantitative"},"y":{"field":"y","type":"quantitative"}}},
{"data":{"name":"pts"},"transform":[{"filter":"datum.sp==='C'"}],"mark":{"type":"point","shape":"circle","size":4,"filled":true,"fill":"#ff0000","strokeWidth":0,"opacity":1},
"encoding":{"x":{"field":"x","type":"quantitative"},"y":{"field":"y","type":"quantitative"}}},
{"data":{"name":"fit"},"mark":{"type":"line","strokeWidth":2.2,"interpolate":"monotone"},
"encoding":{"x":{"field":"x","type":"quantitative"},"y":{"field":"y","type":"quantitative"},"color":{"field":"sp","type":"nominal","scale":{"domain":["A","B"],"range":["#0000ff","#ff0000"]},"legend":null}}},
{"data":{"name":"vbar"},"mark":{"type":"rule","strokeWidth":2.5},
"encoding":{"x":{"field":"x","type":"quantitative"},"y":{"field":"lo","type":"quantitative"},"y2":{"field":"hi"},"color":{"field":"sp","type":"nominal","scale":{"domain":["A","B"],"range":["#0000ff","#ff0000"]},"legend":null}}},
{"data":{"name":"vbar"},"mark":{"type":"tick","orient":"horizontal","size":13,"thickness":2.5,"opacity":1},
"encoding":{"x":{"field":"x","type":"quantitative"},"y":{"field":"lo","type":"quantitative"},"color":{"field":"sp","type":"nominal","scale":{"domain":["A","B"],"range":["#0000ff","#ff0000"]},"legend":null}}},
{"data":{"name":"vbar"},"mark":{"type":"tick","orient":"horizontal","size":13,"thickness":2.5,"opacity":1},
"encoding":{"x":{"field":"x","type":"quantitative"},"y":{"field":"hi","type":"quantitative"},"color":{"field":"sp","type":"nominal","scale":{"domain":["A","B"],"range":["#0000ff","#ff0000"]},"legend":null}}},
{"data":{"name":"hbar"},"mark":{"type":"rule","strokeWidth":2.5},
"encoding":{"y":{"field":"y","type":"quantitative"},"x":{"field":"lo","type":"quantitative"},"x2":{"field":"hi"},"color":{"field":"sp","type":"nominal","scale":{"domain":["A","B"],"range":["#0000ff","#ff0000"]},"legend":null}}},
{"data":{"name":"hbar"},"mark":{"type":"tick","orient":"vertical","size":13,"thickness":2.5,"opacity":1},
"encoding":{"y":{"field":"y","type":"quantitative"},"x":{"field":"lo","type":"quantitative"},"color":{"field":"sp","type":"nominal","scale":{"domain":["A","B"],"range":["#0000ff","#ff0000"]},"legend":null}}},
{"data":{"name":"hbar"},"mark":{"type":"tick","orient":"vertical","size":13,"thickness":2.5,"opacity":1},
"encoding":{"y":{"field":"y","type":"quantitative"},"x":{"field":"hi","type":"quantitative"},"color":{"field":"sp","type":"nominal","scale":{"domain":["A","B"],"range":["#0000ff","#ff0000"]},"legend":null}}}
]
}
